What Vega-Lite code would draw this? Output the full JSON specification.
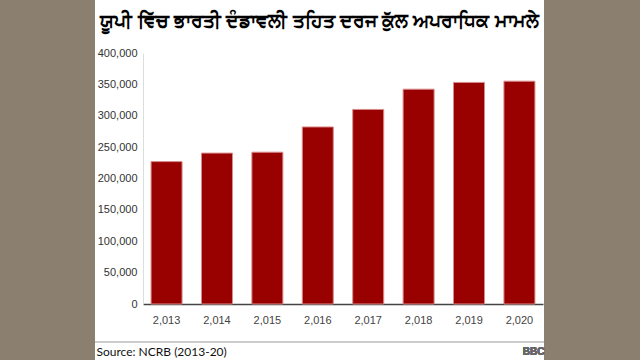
{
  "$schema": "https://vega.github.io/schema/vega-lite/v6.json",
  "autosize": "none",
  "width": 449,
  "height": 360,
  "padding": {"left": 95, "right": 96, "top": 0, "bottom": 0},
  "background": "#8b7f70",
  "config": {"view": {"fill": "white", "stroke": null}, "font": "Liberation Sans"},
  "title": {
    "text": "ਯੂਪੀ ਵਿੱਚ ਭਾਰਤੀ ਦੰਡਾਵਲੀ ਤਹਿਤ ਦਰਜ ਕੁੱਲ ਅਪਰਾਧਿਕ ਮਾਮਲੇ",
    "fontSize": 19,
    "fontWeight": "bold",
    "color": "#000000",
    "anchor": "middle",
    "frame": "group",
    "offset": -31
  },
  "data": {
    "values": [
      {"year": 2013, "cases": 226936},
      {"year": 2014, "cases": 240475},
      {"year": 2015, "cases": 241920},
      {"year": 2016, "cases": 282171},
      {"year": 2017, "cases": 310084},
      {"year": 2018, "cases": 342355},
      {"year": 2019, "cases": 353131},
      {"year": 2020, "cases": 355110}
    ]
  },
  "layer": [
    {
      "mark": {"type": "bar", "fill": "#990000", "stroke": "#d98c8c", "strokeWidth": 1},
      "encoding": {
        "x": {
          "field": "year",
          "type": "ordinal",
          "scale": {"range": [48, 448], "paddingInner": 0.385, "paddingOuter": 0.16},
          "axis": {
            "title": "Source: NCRB (2013-20)",
            "offset": -56,
            "domainColor": "#444444",
            "domainWidth": 1.5,
            "ticks": false,
            "labelPadding": 10,
            "labelFontSize": 11,
            "labelColor": "#444444",
            "labelAngle": 0,
            "labelExpr": "format(datum.value, ',')",
            "titleAnchor": "start",
            "titleAlign": "left",
            "titleX": 1,
            "titleY": 51,
            "titleBaseline": "alphabetic",
            "titleFontSize": 12,
            "titleFontWeight": "normal",
            "titleColor": "#111111",
            "titleFont": "Lato"
          }
        },
        "y": {
          "field": "cases",
          "type": "quantitative",
          "scale": {"domain": [0, 400000], "range": [304, 53], "nice": false},
          "axis": {
            "title": null,
            "offset": -48,
            "domainColor": "#dddddd",
            "ticks": false,
            "grid": false,
            "labelPadding": 6,
            "labelFontSize": 11,
            "labelColor": "#333333",
            "labelExpr": "format(datum.value, ',.0f')",
            "values": [0, 50000, 100000, 150000, 200000, 250000, 300000, 350000, 400000]
          }
        }
      }
    },
    {
      "mark": {"type": "rule", "color": "#cccccc", "strokeWidth": 1},
      "encoding": {"y": {"datum": -60500}}
    },
    {
      "mark": {"type": "text", "align": "right", "baseline": "middle", "dx": 25, "fontSize": 10, "fontWeight": "bold", "color": "#666666", "letterSpacing": 3},
      "encoding": {
        "x": {"datum": 2020, "type": "ordinal"},
        "y": {"datum": -76500},
        "text": {"value": "BBC"}
      }
    }
  ]
}
